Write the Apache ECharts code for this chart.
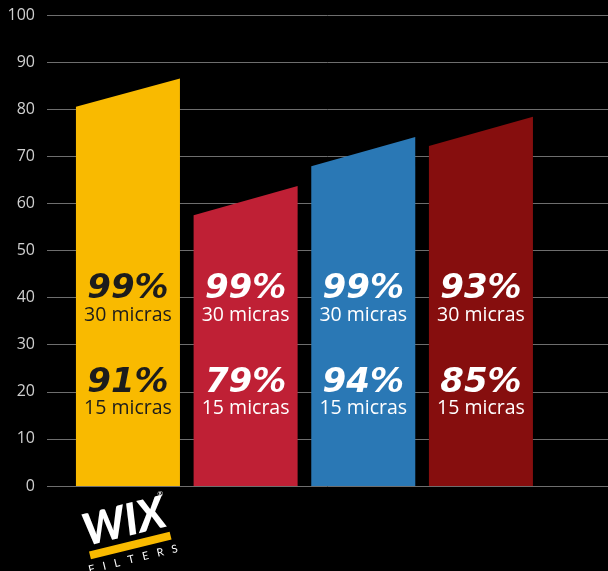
<!DOCTYPE html>
<html><head><meta charset="utf-8">
<script src="https://cdn.jsdelivr.net/npm/echarts@6/dist/echarts.min.js"></script>
<style>html,body{margin:0;padding:0;background:#000}#c{width:608px;height:571px}</style>
</head><body><div id="c"></div>
<script>
const categories = ['WIX', 'Marca A', 'Marca B', 'Marca C'];
const leftTop = [80.5, 57.5, 67.9, 72.2];
const rightTop = [86.5, 63.7, 74.1, 78.4];
const eff30 = ['99%', '99%', '99%', '93%'];
const eff15 = ['91%', '79%', '94%', '85%'];
const label30 = '30 micras';
const label15 = '15 micras';
const colors = ['#F9BA00', '#BF2035', '#2A78B5', '#860E0E'];
const textColors = ['#1c1c1c', '#ffffff', '#ffffff', '#ffffff'];

const chart = echarts.init(document.getElementById('c'));
const halfW = 0.442;
chart.setOption({
  backgroundColor: '#000',
  animation: false,
  grid: { left: 47, right: 0, top: 15, bottom: 85 },
  xAxis: { type: 'value', min: 0.312, max: 5.08, show: false },
  yAxis: {
    type: 'value', min: 0, max: 100, interval: 10,
    axisLine: { show: false }, axisTick: { show: false },
    axisLabel: { color: '#cfcfcf', fontSize: 16, fontFamily: 'Open Sans', margin: 12 },
    splitLine: { lineStyle: { color: '#6e6e6e', width: 1 } }
  },
  series: [{
    type: 'custom',
    data: categories.map((c, i) => [i + 1, leftTop[i], rightTop[i], i]),
    renderItem(params, api) {
      const x = api.value(0), l = api.value(1), r = api.value(2), i = api.value(3);
      const p0 = api.coord([x - halfW, 0]), p1 = api.coord([x - halfW, l]);
      const p2 = api.coord([x + halfW, r]), p3 = api.coord([x + halfW, 0]);
      const cx = api.coord([x, 0])[0];
      const base = api.coord([x, 0])[1];
      const tc = textColors[i];
      return {
        type: 'group',
        children: [
          { type: 'polygon', shape: { points: [p0, p1, p2, p3] }, style: { fill: colors[i] } },
          { type: 'text', style: { text: eff30[i], x: cx, y: base - 197, fill: tc, font: 'italic bold 34px "DejaVu Sans"', align: 'center', verticalAlign: 'middle' } },
          { type: 'text', style: { text: label30, x: cx, y: base - 171, fill: tc, font: '19.5px "Open Sans"', align: 'center', verticalAlign: 'middle' } },
          { type: 'text', style: { text: eff15[i], x: cx, y: base - 103, fill: tc, font: 'italic bold 34px "DejaVu Sans"', align: 'center', verticalAlign: 'middle' } },
          { type: 'text', style: { text: label15, x: cx, y: base - 78, fill: tc, font: '19.5px "Open Sans"', align: 'center', verticalAlign: 'middle' } }
        ]
      };
    }
  }],
  graphic: [{
    type: 'group', x: 126, y: 530, rotation: 0.24,
    children: [
      { type: 'text', style: { text: 'WIX', x: 0, y: -8, fill: '#fff', font: 'italic 900 44px Lato', align: 'center', verticalAlign: 'middle' } },
      { type: 'text', style: { text: '®', x: 42, y: -27, fill: '#fff', font: '7px Lato', align: 'center', verticalAlign: 'middle' } },
      { type: 'rect', shape: { x: -41, y: 12, width: 83, height: 8 }, style: { fill: '#F9BA00' } },
      { type: 'text', style: { text: 'F   I   L   T   E   R   S', x: 0, y: 30, fill: '#fff', font: '11px Lato', align: 'center', verticalAlign: 'middle' } }
    ]
  }]
});
</script></body></html>
